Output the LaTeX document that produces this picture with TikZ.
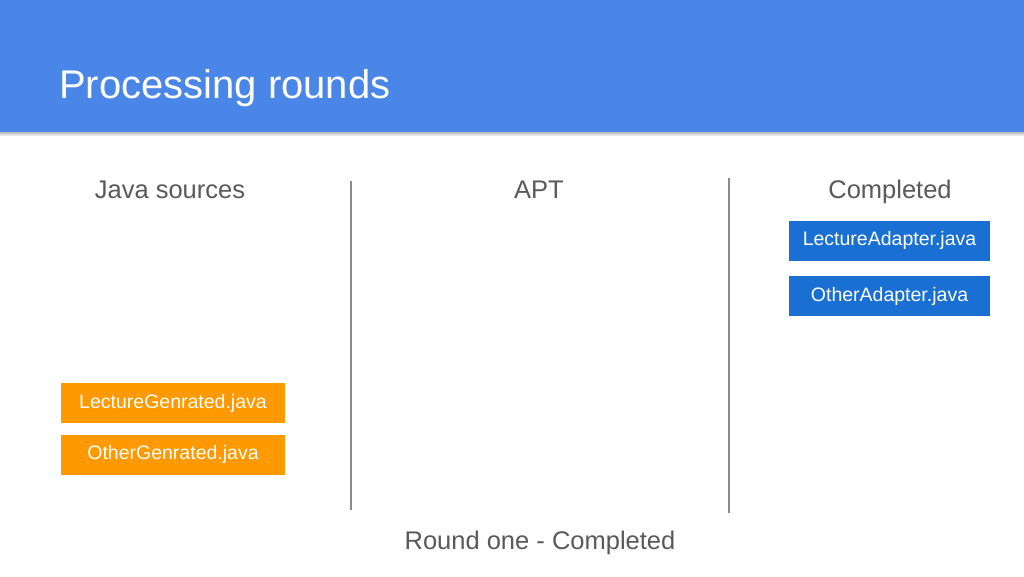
\documentclass[tikz,border=0pt]{standalone}
\usepackage{fontspec}
\setmainfont{Liberation Sans}
\definecolor{hdr}{HTML}{4A86E8}
\definecolor{orng}{HTML}{FF9900}
\definecolor{bbox}{HTML}{1A6FD3}
\definecolor{txtg}{HTML}{595959}
\definecolor{sep}{HTML}{8A8A8A}
\tikzset{
  heading/.style={text=txtg, font=\fontsize{25.5}{30}\selectfont, inner sep=0pt},
  filebox/.style={minimum height=40pt, inner sep=0pt, text=white, font=\fontsize{19.5}{23}\selectfont},
  genbox/.style={filebox, fill=orng, minimum width=224pt},
  donebox/.style={filebox, fill=bbox, minimum width=201pt},
  sepline/.style={draw=sep, line width=1.3pt}
}
\begin{document}
\begin{tikzpicture}[x=1pt,y=-1pt]
\useasboundingbox (0,0) rectangle (1024,576);
\fill[white] (0,0) rectangle (1024,576);
% header shadow
\fill[black!25] (0,132) rectangle (1024,134);
\fill[black!10] (0,134) rectangle (1024,136);
\fill[hdr] (0,0) rectangle (1024,132);
\node[anchor=base west, text=white, font=\fontsize{40}{48}\selectfont, inner sep=0pt] (title) at (59,98) {Processing rounds};
% column headings
\node[heading, anchor=base] (hjava) at (170,198) {Java sources};
\node[heading, anchor=base] (hapt) at (539,198) {APT};
\node[heading, anchor=base] (hdone) at (890,198) {Completed};
% separators
\coordinate (s1t) at (351,181);
\coordinate (s1b) at (351,510);
\coordinate (s2t) at (729,178);
\coordinate (s2b) at (729,513);
\draw[sepline] (s1t) -- (s1b);
\draw[sepline] (s2t) -- (s2b);
% boxes
\node[genbox] (lg) at (173,403) {LectureGenrated.java};
\node[genbox] (og) at (173,454.5) {OtherGenrated.java};
\node[donebox] (la) at (889.5,240.5) {LectureAdapter.java};
\node[donebox] (oa) at (889.5,296) {OtherAdapter.java};
% footer
\node[heading, anchor=base] (foot) at (540,549) {Round one - Completed};
\end{tikzpicture}
\end{document}
